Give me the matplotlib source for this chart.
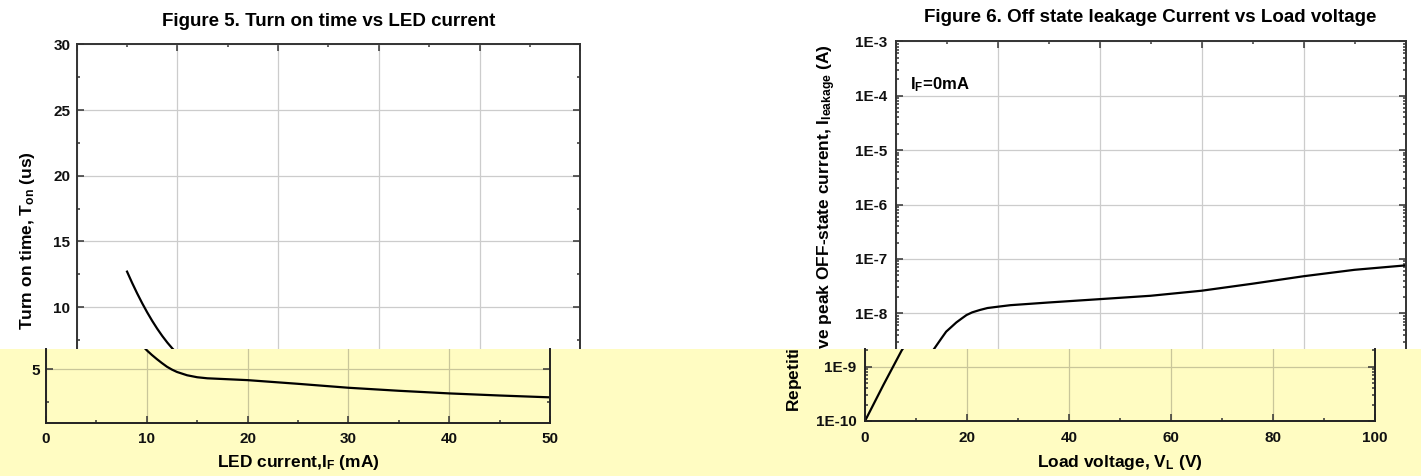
import numpy as np
import matplotlib
matplotlib.use("Agg")
import matplotlib.pyplot as plt
from matplotlib.patches import Rectangle
from matplotlib.ticker import MultipleLocator, LogLocator, FuncFormatter, NullFormatter
from matplotlib.transforms import Bbox, TransformedBbox

plt.rcParams["font.family"] = ["Liberation Sans", "DejaVu Sans"]
plt.rcParams["font.weight"] = "bold"
plt.rcParams["mathtext.fontset"] = "custom"
plt.rcParams["mathtext.rm"] = "Liberation Sans:bold"
plt.rcParams["mathtext.bf"] = "Liberation Sans:bold"
plt.rcParams["mathtext.it"] = "Liberation Sans:bold"

# --- Figure 5: turn on time vs LED current ---
led_current = [5.0, 5.5, 6.0, 6.5, 7.0, 7.5, 8.0, 8.5, 9.0, 9.5, 10.0, 10.5, 11.0, 11.5,
               12.0, 12.5, 13.0, 14.0, 15.0, 16.0, 18.0, 20.0, 25.0, 30.0, 35.0, 40.0, 45.0, 50.0]
turn_on_us = [12.7, 11.85, 11.05, 10.3, 9.6, 8.95, 8.35, 7.8, 7.3, 6.85, 6.45, 6.1, 5.78, 5.48,
              5.2, 4.98, 4.8, 4.55, 4.4, 4.32, 4.25, 4.18, 3.9, 3.6, 3.37, 3.17, 3.01, 2.87]

# --- Figure 6: off state leakage current vs load voltage ---
load_voltage = [0, 3.6, 7.2, 9.0, 9.9, 11.0, 11.9, 13.0, 13.9, 15.0, 16.5, 18.0, 20, 22.5,
                25.7, 30, 40, 50, 60, 70, 80, 90, 100]
leakage_a = [1.0e-10, 4.6e-10, 2.0e-9, 3.5e-9, 4.6e-9, 5.7e-9, 6.8e-9, 8.1e-9, 9.3e-9,
             1.04e-8, 1.15e-8, 1.25e-8, 1.32e-8, 1.41e-8, 1.48e-8, 1.58e-8, 1.82e-8,
             2.1e-8, 2.6e-8, 3.5e-8, 4.8e-8, 6.3e-8, 7.6e-8]

titles = ["Figure 5. Turn on time vs LED current",
          "Figure 6. Off state leakage Current vs Load voltage"]

W, H = 1421, 476
BAND = 349          # top of the yellow strip (px)
YEL = "#fffcc2"
SPINE = "#333333"

fig = plt.figure(figsize=(W / 100, H / 100), dpi=100)


def box(x0, y0, x1, y1):
    return [x0 / W, 1 - y1 / H, (x1 - x0) / W, (y1 - y0) / H]


def px(x, y):
    return x / W, 1 - y / H


def style(ax, band, grid_c):
    ax.tick_params(which="both", direction="in", top=not band, right=True,
                   bottom=band, labelbottom=band, colors=SPINE,
                   labelcolor="#111111", labelsize=11, width=1.1)
    ax.tick_params(which="major", length=5)
    ax.tick_params(which="minor", length=2.5)
    ax.tick_params(axis="x", pad=7)
    ax.grid(True, which="major", color=grid_c, linewidth=0.9)
    ax.set_axisbelow(True)
    for s in ax.spines.values():
        s.set_color(SPINE if not band else "#222222")
        s.set_linewidth(1.4)
    ax.spines["top" if band else "bottom"].set_visible(False)
    if band:
        ax.patch.set_visible(False)
        ax.set_zorder(2)


# ---------------- left chart ----------------
ax1 = fig.add_axes(box(76.7, 44.3, 580.2, BAND))
ax1b = fig.add_axes(box(46, BAND, 550, 422.7))
for ax, band in ((ax1, False), (ax1b, True)):
    ax.plot(led_current, turn_on_us, color="black", linewidth=1.6)
    ax.set_xlim(0, 50)
    ax.xaxis.set_major_locator(MultipleLocator(10))
    ax.xaxis.set_minor_locator(MultipleLocator(5))
    ax.yaxis.set_major_locator(MultipleLocator(5))
    ax.yaxis.set_minor_locator(MultipleLocator(2.5))
    ax.yaxis.set_major_formatter(FuncFormatter(lambda v, _: f"{v:.0f}"))
    style(ax, band, "#c9c69a" if band else "#cccccc")
    ax.tick_params(axis="y", pad=4.5)
ax1.set_ylim(30 - (BAND - 44.3) / 13.14, 30)
ax1b.set_ylim(0.94, 6.55)
ax1.set_title(titles[0], fontsize=13.5, fontweight="bold", pad=13)

# ---------------- right chart ----------------
ax2 = fig.add_axes(box(895.7, 41.3, 1405.5, BAND))
ax2b = fig.add_axes(box(865, BAND, 1375, 421))
for ax, band in ((ax2, False), (ax2b, True)):
    ax.plot(load_voltage, leakage_a, color="black", linewidth=1.6)
    ax.set_yscale("log")
    ax.set_xlim(0, 100)
    ax.xaxis.set_major_locator(MultipleLocator(20))
    ax.xaxis.set_minor_locator(MultipleLocator(10))
    ax.yaxis.set_major_locator(LogLocator(base=10))
    ax.yaxis.set_minor_locator(LogLocator(base=10, subs=np.arange(2, 10)))
    ax.yaxis.set_minor_formatter(NullFormatter())
    ax.yaxis.set_major_formatter(FuncFormatter(lambda v, _: f"1E{int(round(np.log10(v)))}"))
    style(ax, band, "#c9c69a" if band else "#cccccc")
    ax.tick_params(axis="y", pad=6)
ax2.set_ylim(10 ** (-8 - (BAND - 313.3) / 54.4), 1e-3)
ax2b.set_ylim(1e-10, 10 ** (-9 + (366.7 - BAND) / 54.3))
ax2.set_title(titles[1], fontsize=13.5, fontweight="bold", pad=14)
ax2.text(2.8, 10 ** -3.8, r"I$_{\mathbf{F}}$=0mA", fontsize=12, fontweight="bold",
         va="center", ha="left")

# yellow strip over the lower part of the page
fig.add_artist(Rectangle((0, 0), 1, (H - BAND) / H, transform=fig.transFigure,
                         facecolor=YEL, edgecolor="none", zorder=1))

# axis labels
lab = dict(fontsize=12.5, fontweight="bold", ha="center", va="center")
fig.text(*px(28, 240.5), r"Turn on time, T$_{\mathbf{on}}$ (us)", rotation=90, zorder=0.5, **lab)
ylab2 = r"Repetitive peak OFF-state current, I$_{\mathbf{leakage}}$ (A)"
fig.text(*px(827, 228), ylab2, rotation=90, zorder=0.5, **lab)
t = fig.text(*px(797, 228), ylab2, rotation=90, zorder=3, **lab)
t.set_clip_box(TransformedBbox(Bbox.from_extents(0, 0, 1, (H - BAND) / H), fig.transFigure))
t.set_clip_on(True)
fig.text(*px(298, 463), r"LED current,I$_{\mathbf{F}}$ (mA)", zorder=3, **lab)
fig.text(*px(1120, 463), r"Load voltage, V$_{\mathbf{L}}$ (V)", zorder=3, **lab)

fig.savefig("out.png", dpi=100)
